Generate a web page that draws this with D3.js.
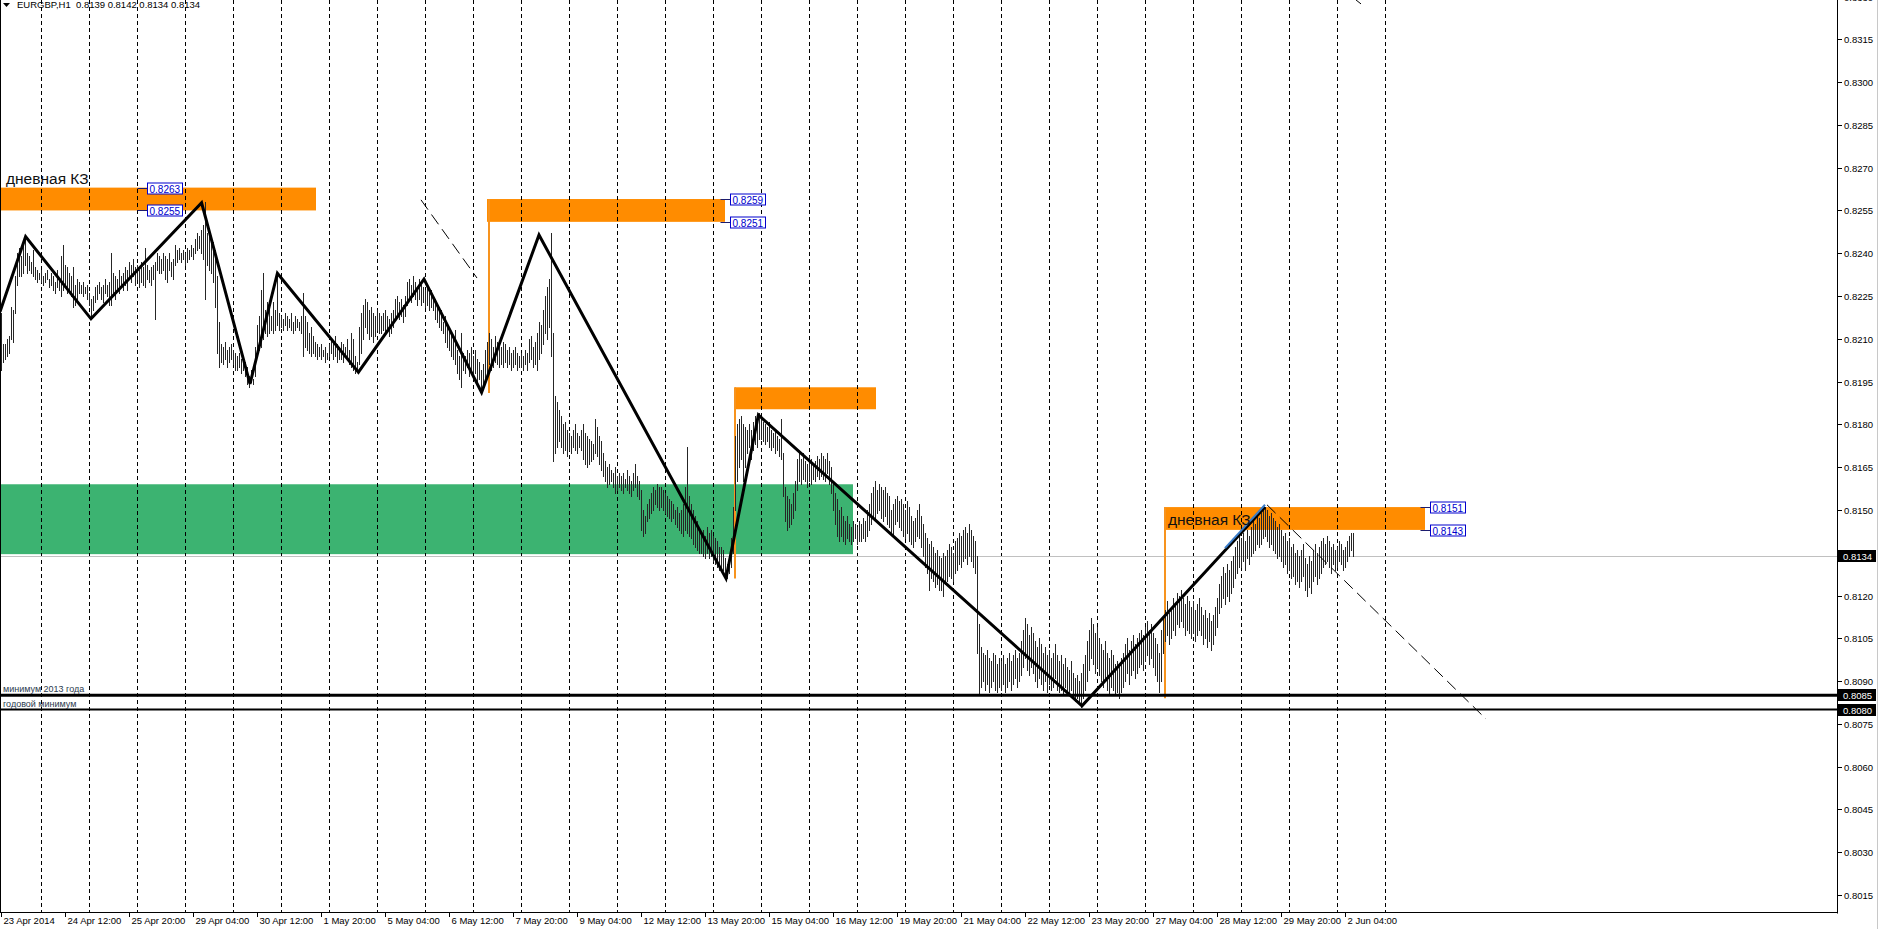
<!DOCTYPE html>
<html lang="en">
<head>
<meta charset="UTF-8">
<title>EURGBP,H1</title>
<script src="https://d3js.org/d3.v7.min.js"></script>
<style>
  body { margin: 0; background: #fff; overflow: hidden; }
  svg text { font-family: "Liberation Sans", Arial, sans-serif; }
</style>
</head>
<body>
<svg id="chart" width="1879" height="929"></svg>
<script>
// H1 bars from 23 Apr 2014 04:00, prices in pips (8219 = 0.8219)
const highs = [
  8219,8208,8208,8210,8211,8221,8220,8232,8240,8242,
  8239,8244,8246,8240,8239,8237,8241,8235,8234,8233,
  8234,8232,8233,8234,8231,8233,8232,8230,8234,8231,
  8239,8243,8236,8235,8233,8232,8235,8229,8231,8230,
  8229,8230,8228,8229,8226,8224,8225,8228,8229,8230,
  8228,8229,8231,8229,8230,8240,8233,8232,8231,8234,
  8232,8233,8235,8234,8237,8236,8238,8235,8236,8234,
  8237,8235,8242,8236,8234,8235,8236,8237,8240,8239,
  8238,8240,8239,8238,8240,8237,8238,8243,8241,8242,
  8240,8241,8240,8242,8241,8243,8242,8245,8247,8246,
  8248,8250,8258,8247,8249,8246,8244,8241,8232,8216,
  8208,8207,8209,8206,8207,8208,8206,8205,8204,8205,
  8203,8204,8202,8200,8197,8199,8196,8207,8215,8218,
  8227,8233,8220,8223,8222,8218,8223,8220,8233,8219,
  8218,8217,8219,8218,8217,8219,8216,8218,8217,8216,
  8218,8226,8218,8216,8212,8214,8211,8209,8208,8207,
  8208,8206,8207,8205,8208,8210,8209,8211,8208,8207,
  8209,8208,8207,8210,8206,8212,8210,8204,8202,8214,
  8219,8222,8224,8223,8220,8221,8219,8218,8220,8219,
  8218,8219,8220,8218,8217,8219,8220,8224,8225,8223,
  8224,8222,8225,8230,8231,8229,8232,8230,8228,8231,
  8229,8228,8227,8228,8226,8227,8225,8224,8222,8221,
  8220,8216,8218,8214,8213,8212,8210,8213,8206,8204,
  8212,8205,8204,8206,8205,8207,8204,8206,8203,8202,
  8199,8201,8206,8209,8212,8210,8207,8211,8209,8208,
  8207,8209,8208,8206,8207,8205,8206,8207,8205,8204,
  8205,8204,8206,8205,8210,8211,8207,8209,8212,8216,
  8215,8220,8225,8228,8231,8247,8212,8190,8188,8185,
  8183,8180,8181,8178,8177,8176,8178,8180,8177,8176,
  8178,8180,8177,8176,8175,8174,8173,8182,8179,8176,
  8174,8170,8167,8165,8166,8164,8163,8165,8162,8163,
  8162,8163,8161,8164,8162,8160,8163,8166,8162,8160,
  8157,8150,8148,8152,8154,8156,8158,8157,8159,8158,
  8158,8157,8156,8155,8154,8153,8152,8150,8151,8149,
  8150,8152,8158,8172,8155,8152,8150,8148,8146,8143,
  8142,8143,8141,8144,8142,8143,8141,8140,8139,8137,
  8137,8136,8133,8131,8134,8140,8151,8176,8180,8182,
  8183,8180,8179,8178,8180,8178,8181,8183,8182,8184,
  8182,8181,8180,8179,8181,8178,8177,8178,8176,8175,
  8182,8170,8158,8155,8154,8152,8156,8160,8168,8170,
  8168,8170,8167,8166,8169,8168,8166,8167,8169,8168,
  8170,8169,8168,8170,8167,8165,8160,8156,8154,8150,
  8151,8148,8146,8148,8145,8144,8146,8145,8144,8146,
  8145,8147,8146,8150,8152,8156,8158,8160,8157,8159,
  8158,8157,8158,8156,8155,8150,8152,8154,8155,8153,
  8154,8152,8150,8153,8151,8148,8146,8147,8150,8152,
  8148,8145,8142,8140,8138,8139,8137,8135,8136,8134,
  8133,8135,8134,8136,8138,8137,8135,8139,8140,8142,
  8141,8143,8144,8142,8145,8143,8141,8139,8134,8110,
  8102,8100,8099,8101,8098,8097,8100,8099,8096,8098,
  8097,8099,8096,8098,8100,8097,8099,8101,8098,8100,
  8104,8108,8112,8110,8106,8109,8107,8104,8102,8105,
  8103,8100,8102,8099,8101,8098,8100,8103,8099,8097,
  8099,8096,8098,8095,8094,8097,8093,8091,8092,8090,
  8093,8096,8099,8104,8108,8112,8110,8107,8109,8105,
  8103,8101,8104,8100,8098,8101,8099,8096,8097,8095,
  8098,8100,8103,8105,8101,8104,8106,8103,8105,8107,
  8108,8106,8109,8111,8108,8110,8107,8105,8103,8100,
  8108,8112,8115,8118,8114,8116,8119,8117,8121,8120,
  8122,8119,8117,8120,8118,8116,8118,8115,8117,8119,
  8116,8113,8115,8112,8114,8111,8113,8116,8119,8124,
  8127,8130,8128,8131,8129,8132,8134,8137,8139,8141,
  8140,8142,8139,8143,8141,8144,8146,8145,8148,8147,
  8149,8150,8151,8150,8148,8149,8147,8146,8144,8145,
  8143,8141,8142,8139,8140,8137,8138,8135,8136,8134,
  8136,8138,8133,8131,8134,8132,8136,8138,8135,8137,
  8139,8140,8138,8141,8139,8137,8138,8136,8137,8139,
  8138,8136,8137,8139,8141,8142,8142
];
const lows = [
  8199,8202,8203,8204,8205,8210,8209,8219,8229,8232,
  8232,8233,8236,8233,8234,8233,8232,8231,8230,8231,
  8230,8229,8230,8231,8228,8229,8227,8226,8228,8227,
  8225,8227,8228,8226,8227,8225,8221,8222,8224,8226,
  8226,8225,8226,8224,8222,8218,8220,8223,8224,8226,
  8224,8223,8226,8225,8222,8222,8226,8224,8227,8226,
  8228,8227,8229,8227,8231,8230,8232,8229,8231,8228,
  8230,8229,8228,8231,8230,8229,8231,8217,8234,8233,
  8233,8234,8231,8230,8234,8232,8231,8236,8237,8238,
  8237,8238,8236,8237,8238,8239,8238,8240,8241,8242,
  8240,8238,8224,8236,8234,8233,8230,8221,8205,8200,
  8202,8201,8203,8200,8202,8203,8201,8199,8199,8200,
  8198,8199,8197,8194,8193,8195,8194,8197,8204,8206,
  8207,8210,8212,8211,8212,8213,8212,8213,8215,8213,
  8214,8213,8215,8213,8214,8213,8212,8213,8214,8213,
  8212,8204,8207,8206,8205,8204,8205,8204,8203,8204,
  8203,8204,8202,8203,8204,8205,8203,8204,8202,8203,
  8203,8202,8204,8203,8201,8200,8199,8198,8199,8201,
  8205,8210,8214,8212,8210,8211,8209,8211,8213,8212,
  8212,8213,8212,8213,8211,8212,8214,8217,8218,8217,
  8218,8216,8218,8222,8224,8223,8225,8224,8222,8224,
  8222,8223,8221,8222,8220,8221,8220,8217,8216,8214,
  8213,8212,8209,8207,8206,8204,8203,8201,8198,8196,
  8193,8199,8198,8200,8197,8199,8196,8198,8195,8196,
  8191,8193,8196,8198,8201,8199,8200,8202,8201,8200,
  8201,8200,8202,8200,8201,8199,8200,8201,8199,8200,
  8200,8199,8201,8199,8202,8203,8200,8201,8199,8203,
  8205,8208,8212,8210,8214,8204,8167,8170,8172,8174,
  8172,8170,8171,8169,8171,8170,8172,8171,8170,8172,
  8171,8168,8166,8165,8166,8167,8168,8170,8169,8166,
  8164,8162,8160,8158,8159,8160,8158,8156,8157,8158,
  8157,8156,8158,8157,8156,8155,8157,8158,8155,8154,
  8143,8141,8142,8146,8147,8149,8150,8152,8151,8150,
  8151,8150,8149,8148,8147,8146,8147,8145,8144,8143,
  8142,8141,8143,8142,8141,8140,8138,8137,8136,8135,
  8135,8134,8133,8135,8133,8134,8132,8131,8130,8129,
  8130,8129,8127,8126,8128,8130,8135,8150,8160,8165,
  8168,8160,8165,8170,8172,8168,8171,8173,8172,8175,
  8175,8174,8173,8174,8172,8171,8172,8170,8171,8169,
  8168,8155,8146,8143,8144,8145,8147,8150,8157,8160,
  8159,8161,8160,8158,8160,8159,8161,8160,8162,8161,
  8162,8161,8160,8163,8159,8156,8150,8145,8141,8139,
  8141,8139,8138,8140,8139,8138,8139,8140,8138,8139,
  8139,8140,8139,8141,8143,8145,8148,8147,8149,8150,
  8147,8146,8148,8145,8144,8142,8141,8145,8146,8144,
  8143,8141,8140,8142,8139,8138,8137,8139,8141,8140,
  8137,8134,8130,8128,8122,8126,8125,8123,8124,8122,
  8122,8120,8124,8125,8127,8126,8125,8128,8129,8131,
  8130,8132,8133,8131,8134,8132,8130,8128,8100,8085,
  8088,8090,8087,8089,8086,8088,8090,8087,8086,8088,
  8087,8089,8086,8088,8090,8087,8089,8091,8088,8090,
  8092,8095,8098,8094,8092,8095,8093,8090,8088,8091,
  8089,8087,8090,8086,8089,8087,8088,8091,8087,8086,
  8087,8085,8088,8086,8085,8087,8084,8083,8084,8082,
  8081,8084,8087,8090,8094,8098,8096,8093,8095,8092,
  8090,8088,8091,8087,8085,8088,8087,8085,8086,8084,
  8086,8088,8090,8093,8089,8092,8094,8091,8093,8095,
  8096,8094,8097,8099,8096,8098,8095,8092,8090,8086,
  8090,8100,8104,8106,8103,8105,8108,8106,8110,8109,
  8111,8109,8106,8108,8107,8105,8107,8104,8106,8108,
  8106,8103,8105,8102,8104,8101,8103,8106,8109,8114,
  8116,8119,8117,8120,8118,8121,8123,8126,8128,8130,
  8130,8132,8129,8133,8131,8134,8135,8136,8138,8137,
  8138,8140,8141,8139,8137,8138,8136,8135,8133,8134,
  8132,8130,8131,8128,8129,8126,8127,8124,8125,8123,
  8125,8127,8122,8120,8123,8121,8125,8127,8124,8126,
  8128,8130,8131,8132,8130,8128,8131,8129,8130,8132,
  8131,8129,8130,8132,8134,8136,8134
];

// time axis labels, one every 32 bars
const dateLabels = ["23 Apr 2014", "24 Apr 12:00", "25 Apr 20:00", "29 Apr 04:00", "30 Apr 12:00",
  "1 May 20:00", "5 May 04:00", "6 May 12:00", "7 May 20:00", "9 May 04:00", "12 May 12:00",
  "13 May 20:00", "15 May 04:00", "16 May 12:00", "19 May 20:00", "21 May 04:00", "22 May 12:00",
  "23 May 20:00", "27 May 04:00", "28 May 12:00", "29 May 20:00", "2 Jun 04:00"];
const priceTicks = ["0.8015", "0.8030", "0.8045", "0.8060", "0.8075", "0.8090", "0.8105", "0.8120",
  "0.8135", "0.8150", "0.8165", "0.8180", "0.8195", "0.8210", "0.8225", "0.8240", "0.8255",
  "0.8270", "0.8285", "0.8300", "0.8315", "0.8330"];

// zigzag drawn by hand: [bar, price]
const zigzag = [[-0.5, 8219.5], [12.3, 8245.8], [45, 8217], [100.3, 8257.7], [124.5, 8194.2],
  [138.2, 8233], [178.7, 8198.3], [211.5, 8230.9], [240.3, 8191.2], [269, 8246.4],
  [362.5, 8126], [378.7, 8183.3], [540.5, 8081.3], [632, 8151]];

// zones: [fromBar, toBar, top, bottom]
const orangeZones = [[-1, 157.5, 8263, 8255], [243, 362, 8259, 8251], [367, 437.5, 8193, 8185.3], [582, 712, 8151, 8143]];
const greenZone = [-1, 426, 8159, 8134.5];
// orange verticals: [bar, top, bottom]
const orangeVerticals = [[244, 8259, 8191], [367, 8193, 8126], [582, 8151, 8084]];
// price labels: [bar, price]
const priceLabels = [[73, 8263], [73, 8255], [364.5, 8259], [364.5, 8251], [714.5, 8151], [714.5, 8143]];
const dashedLines = [[[210, 8258.7], [238, 8231.3]], [[633, 8151.8], [742.5, 8076.7]],
  [[677.5, 8328.8], [680, 8327.4]]];
const blueSegment = [[612, 8136.6], [632, 8151.8]];
const hLines = [[8085, 3, "минимум 2013 года"], [8080, 2, "годовой минимум"]];
const bid = 8134;

const svg = d3.select("#chart");
const right = 1838, bottom = 913;
const x = d3.scaleLinear().domain([0, 918]).range([1, 1837]);
const y = d3.scaleLinear().domain([0.8015, 0.8315]).range([895, 39.3]);
const p = v => y(v / 10000);
const px = i => Math.round(x(i)) + 0.5;

svg.append("defs").append("clipPath").attr("id", "plotClip")
  .append("rect").attr("x", 0).attr("y", 0).attr("width", right).attr("height", bottom);

const plot = svg.append("g").attr("clip-path", "url(#plotClip)");

// zones
plot.append("rect")
  .attr("x", x(greenZone[0])).attr("width", x(greenZone[1]) - x(greenZone[0]))
  .attr("y", p(greenZone[2])).attr("height", p(greenZone[3]) - p(greenZone[2]))
  .attr("fill", "#3cb371");
plot.append("g").selectAll("rect").data(orangeZones).join("rect")
  .attr("x", d => x(d[0])).attr("width", d => x(d[1]) - x(d[0]))
  .attr("y", d => p(d[2])).attr("height", d => p(d[3]) - p(d[2]))
  .attr("fill", "#ff8c00");

// day separators
const nBars = Math.min(highs.length, lows.length);
const separators = d3.range(20, 700, 24);
plot.append("g").selectAll("line").data(separators).join("line")
  .attr("x1", d => px(d)).attr("x2", d => px(d))
  .attr("y1", 0).attr("y2", bottom)
  .attr("stroke", "#000").attr("stroke-width", 1).attr("stroke-dasharray", "4,3");

// bid line
plot.append("line").attr("x1", 0).attr("x2", right)
  .attr("y1", Math.round(p(bid)) + 0.5).attr("y2", Math.round(p(bid)) + 0.5)
  .attr("stroke", "#c0c0c0");

// orange verticals
plot.append("g").selectAll("line").data(orangeVerticals).join("line")
  .attr("x1", d => x(d[0])).attr("x2", d => x(d[0]))
  .attr("y1", d => p(d[1])).attr("y2", d => p(d[2]))
  .attr("stroke", "#f7931e").attr("stroke-width", 2);

// price bars
const bars = d3.range(nBars).map(i => ({ i: i, h: highs[i], l: lows[i] }));
plot.append("g").selectAll("line").data(bars).join("line")
  .attr("x1", d => px(d.i)).attr("x2", d => px(d.i))
  .attr("y1", d => Math.round(p(d.h))).attr("y2", d => Math.round(p(d.l)) + 1)
  .attr("stroke", "#262626").attr("stroke-width", 1).attr("shape-rendering", "crispEdges");

// horizontal levels
plot.append("g").selectAll("line").data(hLines).join("line")
  .attr("x1", 0).attr("x2", right)
  .attr("y1", d => p(d[0])).attr("y2", d => p(d[0]))
  .attr("stroke", "#000").attr("stroke-width", d => d[1]);
plot.append("g").selectAll("text").data(hLines).join("text")
  .attr("x", 3).attr("y", d => p(d[0]) - 3)
  .attr("font-size", 9).attr("fill", "#2b3a4e").text(d => d[2]);

// zigzag
const line = d3.line().x(d => x(d[0])).y(d => p(d[1]));
plot.append("path").datum(zigzag).attr("d", line)
  .attr("fill", "none").attr("stroke", "#000").attr("stroke-width", 3).attr("stroke-linejoin", "miter");
plot.append("path").datum(blueSegment).attr("d", line)
  .attr("fill", "none").attr("stroke", "#3a7cc8").attr("stroke-width", 2);

// thin dashed trend lines
plot.append("g").selectAll("path").data(dashedLines).join("path")
  .attr("d", line).attr("fill", "none").attr("stroke", "#000").attr("stroke-width", 1)
  .attr("stroke-dasharray", "12,6");

// zone captions
plot.append("text").attr("x", x(2.5)).attr("y", p(8263) - 4)
  .attr("font-size", 15.5).attr("fill", "#111").text("дневная КЗ");
plot.append("text").attr("x", x(583.5)).attr("y", p(8143) - 5)
  .attr("font-size", 15.5).attr("fill", "#111").text("дневная КЗ");

// price labels of zones
const pl = plot.append("g").selectAll("g").data(priceLabels).join("g")
  .attr("transform", d => `translate(${Math.round(x(d[0])) + 0.5},${Math.round(p(d[1])) + 0.5})`);
pl.append("line").attr("x1", -10).attr("x2", 0).attr("y1", 0).attr("y2", 0).attr("stroke", "#1c1c6e");
pl.append("rect").attr("x", 0).attr("y", -5.5).attr("width", 35).attr("height", 11)
  .attr("fill", "#fff").attr("stroke", "#0000cd");
pl.append("text").attr("x", 2).attr("y", 4).attr("font-size", 10).attr("fill", "#0000cd")
  .text(d => (d[1] / 10000).toFixed(4));

// frame
svg.append("line").attr("x1", 0.5).attr("x2", 0.5).attr("y1", 0).attr("y2", bottom).attr("stroke", "#000");
svg.append("line").attr("x1", right - 0.5).attr("x2", right - 0.5).attr("y1", 0).attr("y2", bottom + 0.5).attr("stroke", "#000");
svg.append("line").attr("x1", 0).attr("x2", right).attr("y1", bottom - 0.5).attr("y2", bottom - 0.5).attr("stroke", "#000");
svg.append("line").attr("x1", 1877.5).attr("x2", 1877.5).attr("y1", 0).attr("y2", 929).attr("stroke", "#c8c8c8");

// price axis
const ya = svg.append("g").selectAll("g").data(priceTicks).join("g")
  .attr("transform", d => `translate(${right},${Math.round(y(+d)) + 0.5})`);
ya.append("line").attr("x1", 0).attr("x2", 4).attr("stroke", "#000");
ya.append("text").attr("x", 6).attr("y", 3.5).attr("font-size", 9.5).attr("fill", "#000").text(d => d);

// price markers on axis
const markers = [bid, 8085, 8080];
const mk = svg.append("g").selectAll("g").data(markers).join("g")
  .attr("transform", d => `translate(${right},${Math.round(p(d))})`);
mk.append("rect").attr("x", 0).attr("y", -6).attr("width", 38).attr("height", 12).attr("fill", "#000");
mk.append("text").attr("x", 5).attr("y", 3.5).attr("font-size", 9.5).attr("fill", "#fff")
  .text(d => (d / 10000).toFixed(4));

// time axis
const xa = svg.append("g").selectAll("g").data(dateLabels).join("g")
  .attr("transform", (d, k) => `translate(${px(32 * k)},${bottom})`);
xa.append("line").attr("y1", 0).attr("y2", 4).attr("stroke", "#000");
xa.append("text").attr("x", 2).attr("y", 11).attr("font-size", 9.5).attr("fill", "#000").text(d => d);

// title
svg.append("path").attr("d", "M3,3 L10,3 L6.5,7 Z").attr("fill", "#000");
svg.append("text").attr("x", 17).attr("y", 8).attr("font-size", 9.5).attr("fill", "#000")
  .style("white-space", "pre").text("EURGBP,H1  0.8139 0.8142 0.8134 0.8134");
</script>
</body>
</html>
